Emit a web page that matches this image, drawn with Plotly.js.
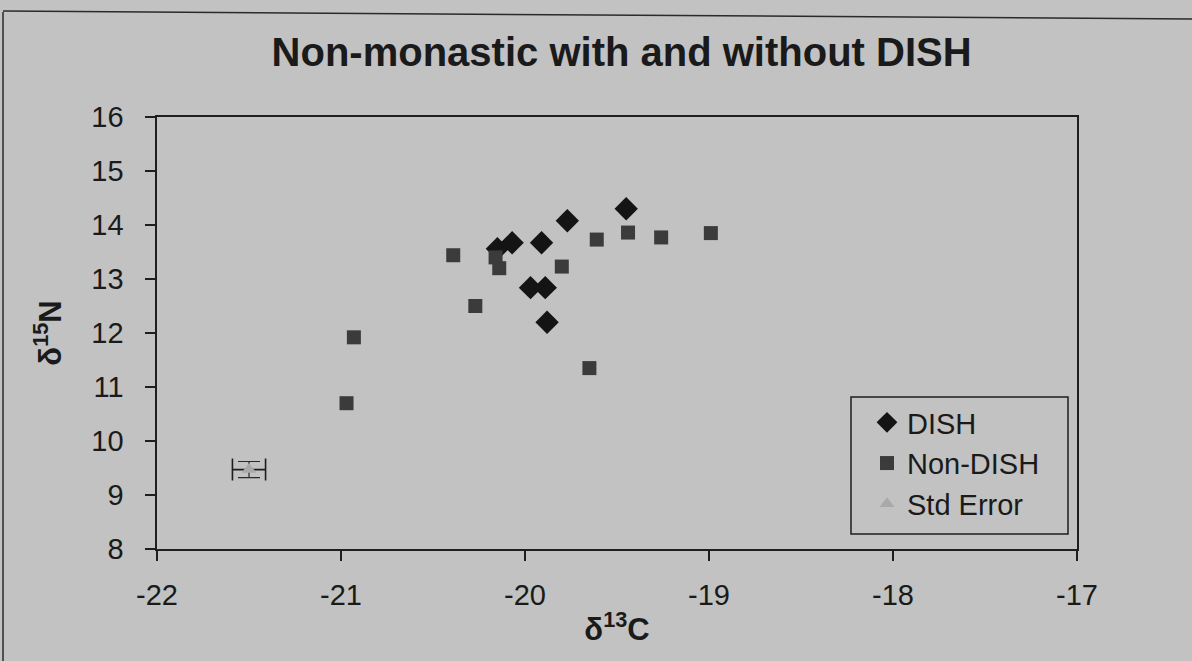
<!DOCTYPE html>
<html>
<head>
<meta charset="utf-8">
<script src="https://cdn.plot.ly/plotly-3.0.1.min.js"></script>
<style>
  html, body { margin: 0; padding: 0; background: #c2c2c2; }
  #chart { width: 1192px; height: 661px; }
</style>
</head>
<body>
<div id="chart"></div>
<script>
// DISH (diamonds)
const dishX = [-20.15, -20.07, -19.91, -19.77, -19.45, -19.97, -19.89, -19.88];
const dishY = [13.56, 13.67, 13.67, 14.08, 14.30, 12.84, 12.84, 12.20];

// Non-DISH (squares)
const nonDishX = [-20.39, -20.16, -20.14, -20.27, -20.93, -20.97, -19.80, -19.61, -19.44, -19.26, -18.99, -19.65];
const nonDishY = [13.44, 13.40, 13.20, 12.50, 11.92, 10.70, 13.23, 13.73, 13.86, 13.77, 13.85, 11.35];

// Std Error
const seX = [-21.50];
const seY = [9.47];
const seErrX = [0.09];
const seErrY = [0.15];

const xTicks = [-22, -21, -20, -19, -18, -17];
const yTicks = [8, 9, 10, 11, 12, 13, 14, 15, 16];

const FONT = 'Liberation Sans, Arial, sans-serif';

const traces = [
  {
    type: 'scatter', mode: 'markers', name: 'DISH',
    x: dishX, y: dishY,
    marker: { symbol: 'diamond', size: 18, color: '#141414' }
  },
  {
    type: 'scatter', mode: 'markers', name: 'Non-DISH',
    x: nonDishX, y: nonDishY,
    marker: { symbol: 'square', size: 14, color: '#3b3b3b' }
  },
  {
    type: 'scatter', mode: 'markers', name: 'Std Error',
    x: seX, y: seY,
    marker: { symbol: 'triangle-up', size: 13, color: '#a9a9a9' },
    error_x: { type: 'data', array: seErrX, visible: true, color: '#1e1e1e', thickness: 1.6, width: 11 },
    error_y: { type: 'data', array: seErrY, visible: true, color: '#2a2a2a', thickness: 1.2, width: 11 }
  }
];

// pixel -> paper helpers for decorations (plot area 157..1077 x 117..549)
const L = 157, R = 1077, T = 117, B = 549;
const px = v => (v - L) / (R - L);
const py = v => (B - v) / (B - T);

const layout = {
  width: 1192, height: 661,
  paper_bgcolor: '#c2c2c2', plot_bgcolor: '#c2c2c2',
  margin: { l: L, r: 1192 - R, t: T, b: 661 - B, pad: 0 },
  showlegend: true,
  font: { family: FONT, color: '#1a1a1a', size: 28 },
  title: {
    text: '<b>Non-monastic with and without DISH</b>',
    font: { family: FONT, size: 40, color: '#1a1a1a' },
    x: 0.505, xanchor: 'center', xref: 'paper',
    y: 0.922, yanchor: 'middle', yref: 'container'
  },
  xaxis: {
    range: [-22, -17], tickvals: xTicks, ticktext: xTicks.map(String),
    showline: true, linecolor: '#1e1e1e', linewidth: 1.6,
    mirror: true, showgrid: false, zeroline: false,
    ticks: 'outside', ticklen: 10, tickwidth: 1.5, tickcolor: '#1e1e1e',
    tickfont: { family: FONT, size: 29, color: '#1a1a1a' },
    ticklabelstandoff: 10,
    title: { text: '<b>δ<sup>13</sup>C</b>', font: { family: FONT, size: 31, color: '#1a1a1a' }, standoff: 8 }
  },
  yaxis: {
    range: [8, 16], tickvals: yTicks, ticktext: yTicks.map(String),
    showline: true, linecolor: '#1e1e1e', linewidth: 1.6,
    mirror: true, showgrid: false, zeroline: false,
    ticks: 'outside', ticklen: 10, tickwidth: 1.5, tickcolor: '#1e1e1e',
    tickfont: { family: FONT, size: 29, color: '#1a1a1a' },
    ticklabelstandoff: 16,
    title: { text: '<b>δ<sup>15</sup>N</b>', font: { family: FONT, size: 31, color: '#1a1a1a' }, standoff: 20 }
  },
  legend: {
    x: px(851), y: py(397), xanchor: 'left', yanchor: 'top',
    bgcolor: 'rgba(0,0,0,0)', borderwidth: 0,
    font: { family: FONT, size: 29, color: '#1a1a1a' },
    indentation: 16, itemwidth: 30, tracegroupgap: 0
  },
  shapes: [
    { type: 'line', xref: 'paper', yref: 'paper', x0: px(3), x1: px(3), y0: py(661), y1: py(12),
      line: { color: '#2a2a2a', width: 1.5 } },
    { type: 'line', xref: 'paper', yref: 'paper', x0: px(3), x1: px(1192), y0: py(11), y1: py(19),
      line: { color: '#2a2a2a', width: 1.5 } },
    // legend frame
    { type: 'rect', xref: 'paper', yref: 'paper', x0: px(851), x1: px(1068), y0: py(534), y1: py(397),
      line: { color: '#1e1e1e', width: 1.5 }, fillcolor: 'rgba(0,0,0,0)', layer: 'above' }
  ]
};

Plotly.newPlot('chart', traces, layout, { displayModeBar: false, staticPlot: true });
</script>
</body>
</html>
